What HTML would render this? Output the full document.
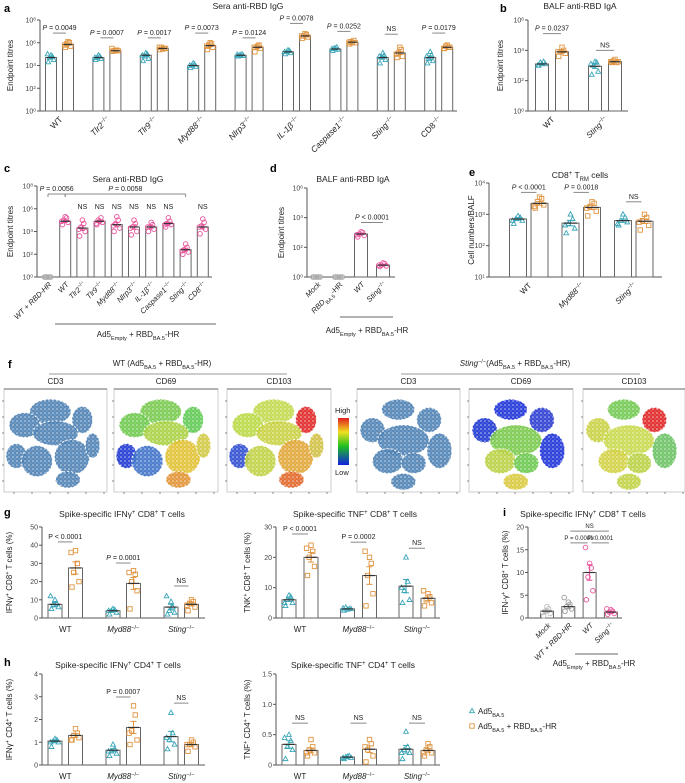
<!DOCTYPE html>
<html><head><meta charset="utf-8"><style>
html,body{margin:0;padding:0;background:#fff;}
svg{display:block;font-family:"Liberation Sans",sans-serif;}
</style></head><body>
<svg id="fig" width="685" height="783" viewBox="0 0 685 783"></svg>
<script>
// ---------- DATA ----------
const aCats=["WT","i:Tlr2|^−/−","i:Tlr9|^−/−","i:Myd88|^−/−","i:Nlrp3|^−/−","i:IL-1β|^−/−","i:Caspase1|^−/−","i:Sting|^−/−","CD8|^−/−"];
const aTealMean=[4.7,4.7,4.9,4.0,4.9,5.2,5.45,4.7,4.7];
const aOrangeMean=[5.85,5.3,5.5,5.75,5.6,6.6,6.05,5.1,5.6];
const aTealPts=[[4.3,4.5,4.7,4.8,4.9,5.0],[4.5,4.6,4.7,4.8,4.9,4.7],[4.4,4.6,4.8,5.0,5.1,4.9],[3.8,3.9,4.0,4.1,4.2,4.0],[4.8,4.85,4.9,5.0,4.9,4.95],[5.0,5.1,5.2,5.3,5.35,5.2],[5.3,5.4,5.5,5.6,5.5,5.45],[4.2,4.5,4.7,4.9,5.1,4.8],[4.2,4.4,4.6,4.9,5.2,4.8]];
const aOrangePts=[[5.6,5.7,5.9,6.0,6.1,5.8],[5.25,5.3,5.3,5.35,5.3,5.5],[5.4,5.5,5.6,5.5,5.45,5.6],[5.4,5.6,5.8,5.9,6.0,5.7],[5.2,5.5,5.6,5.8,5.7,5.6],[6.4,6.5,6.6,6.7,6.8,6.6],[5.9,6.0,6.1,6.2,6.0,6.05],[4.7,4.8,5.1,5.4,5.6,5.0],[5.5,5.6,5.7,5.6,5.8,5.5]];
const aSigLevel=[6.85,6.43,6.43,6.85,6.43,7.7,7.0,6.75,6.85];
const aSigText=["i:P| = 0.0049","i:P| = 0.0007","i:P| = 0.0017","i:P| = 0.0073","i:P| = 0.0124","i:P| = 0.0078","i:P| = 0.0252","NS","i:P| = 0.0179"];

const bCats=["WT","i:Sting|^−/−"];
const bTealMean=[3.1,2.95];
const bOrangeMean=[3.9,3.25];
const bTealPts=[[3.0,3.1,3.2,3.25,3.1,3.0],[2.4,2.6,3.0,3.2,3.25,3.1]];
const bOrangePts=[[3.6,3.8,3.9,4.0,4.2,3.9],[3.2,3.25,3.3,3.2,3.4,3.25]];
const bSigLevel=[5.1,4.0];
const bSigText=["i:P| = 0.0237","NS"];

const cCats=["i:WT + RBD-HR","i:WT","i:Tlr2|^−/−","i:Tlr9|^−/−","i:Myd88|^−/−","i:Nlrp3|^−/−","i:IL-1β|^−/−","i:Caspase1|^−/−","i:Sting|^−/−","i:CD8|^−/−"];
const cMean=[0,4.9,4.3,4.9,4.6,4.4,4.4,4.7,2.4,4.4];
const cPts=[[0,0,0,0,0,0],[4.6,4.8,5.0,5.2,5.3,4.9],[3.6,4.0,4.4,4.7,5.0,4.2],[4.6,4.8,5.0,5.2,4.9,4.7],[4.0,4.3,4.7,5.0,5.3,4.5],[3.7,4.0,4.4,4.7,5.0,4.3],[4.0,4.2,4.4,4.6,4.8,4.4],[4.4,4.6,4.7,4.9,5.2,4.6],[2.0,2.2,2.4,2.6,2.9,2.3],[3.8,4.2,4.5,4.8,5.1,4.4]];
const cSig=[[0,1,7.3,"i:P| = 0.0056"],[1,8,7.3,"i:P| = 0.0058"]];
const cNS=[2,3,4,5,6,7,9];

const dCats=["i:Mock","i:RBD|_BA.5|-HR","i:WT","i:Sting|^−/−"];
const dMean=[0,0,2.9,0.8];
const dPts=[[0,0,0,0,0,0],[0,0,0,0,0,0],[2.7,2.8,2.9,3.0,3.05,2.85],[0.7,0.75,0.8,0.9,0.95,0.8]];
const dSig=[[2,3,3.67,"i:P| < 0.0001"]];

const eCats=["WT","i:Myd88|^−/−","i:Sting|^−/−"];
const eTealMean=[2.85,2.72,2.8];
const eOrangeMean=[3.35,3.22,2.78];
const eTealPts=[[2.7,2.8,2.85,2.9,2.95,2.8],[2.4,2.55,2.7,2.85,3.0,2.65],[2.65,2.75,2.8,2.9,3.0,2.7]];
const eOrangePts=[[3.2,3.3,3.4,3.5,3.55,3.25],[2.95,3.1,3.25,3.35,3.4,3.2],[2.5,2.65,2.8,2.9,3.0,2.75]];
const eSigLevel=[3.7,3.7,3.4];
const eSigText=["i:P| < 0.0001","i:P| = 0.0018","NS"];

const gCats=["WT","i:Myd88|^−/−","i:Sting|^−/−"];
const g1TealMean=[7.5,4,6];
const g1OrangeMean=[27.5,19,7.5];
const g1TealPts=[[5,6,7,8,10,12],[2,3,4,4.5,5,4],[2,3,4,6,9,12]];
const g1OrangePts=[[17,20,25,30,37,36],[5,15,20,24,26,25],[4,6,8,9,10,7]];
const g1SigLevel=[41.8,30.2,17.6];
const g1SigText=["P < 0.0001","i:P| = 0.0001","NS"];

const g2TealMean=[6,3,10.5];
const g2OrangeMean=[20,14,6.5];
const g2TealPts=[[4,5,6,7,7.5,5],[2.5,3,3.5,3,2.8,3.2],[5,6,9,12,20,10]];
const g2OrangePts=[[14,17,20,22,24,23],[4,8,14,18,20,22],[4,5,6,7,8,9]];
const g2SigLevel=[27.7,25,23];
const g2SigText=["P < 0.0001","P = 0.0002","NS"];

const iCats=["i:Mock","i:WT + RBD-HR","i:WT","i:Sting|^−/−"];
const iMean=[1.5,2.5,10,1.3];
const iPts=[[0.5,1,1.5,2,2.5,1.2],[1.5,2,2.5,3,3.5,4.5],[4,6,9,11,12,15.5],[0.8,1,1.3,1.5,1.8,2]];
const iSig=[[1,2,16.5,"P = 0.0001"],[2,3,16.5,"i:P|<0.0001"],[1,3,19.1,"NS"]];

const h1TealMean=[1.05,0.65,1.25];
const h1OrangeMean=[1.3,1.65,0.9];
const h1TealPts=[[0.8,1.0,1.05,1.1,1.15,1.0],[0.4,0.5,0.6,0.7,0.9,0.6],[0.7,0.9,1.1,1.4,2.3,1.2]];
const h1OrangePts=[[1.1,1.2,1.3,1.4,1.6,1.1],[0.9,1.1,1.5,2.2,2.6,1.4],[0.6,0.8,0.9,1.0,1.1,0.9]];
const h1SigLevel=[null,2.99,2.72];
const h1SigText=["","P = 0.0007","NS"];

const h2TealMean=[0.34,0.13,0.26];
const h2OrangeMean=[0.24,0.26,0.24];
const h2TealPts=[[0.1,0.25,0.3,0.4,0.5,0.45],[0.1,0.12,0.13,0.15,0.14,0.12],[0.1,0.2,0.25,0.3,0.55,0.2]];
const h2OrangePts=[[0.15,0.2,0.25,0.3,0.42,0.2],[0.05,0.15,0.25,0.35,0.42,0.3],[0.15,0.2,0.25,0.3,0.35,0.2]];
const h2SigLevel=[0.69,0.69,0.69];
const h2SigText=["NS","NS","NS"];

// ---------- HELPERS ----------
const NS='http://www.w3.org/2000/svg';
const svg=document.getElementById('fig');
const TEAL='#3aa6b9',ORANGE='#df9440',PINK='#e9539b',GRAY='#a8a8a8',AX='#555',TXT='#222';
function add(tag,parent,attrs){const e=document.createElementNS(NS,tag);for(const k in attrs)e.setAttribute(k,attrs[k]);parent.appendChild(e);return e;}
function rich(parent,x,y,str,size,anchor,extra){
  const t=add('text',parent,Object.assign({x:x,y:y,'font-size':size,'text-anchor':anchor||'middle',fill:TXT},extra||{}));
  str.split('|').forEach(seg=>{
    const s=add('tspan',t,{});
    if(seg.startsWith('i:')){s.setAttribute('font-style','italic');seg=seg.slice(2);}
    if(seg.startsWith('^')){s.setAttribute('baseline-shift','super');s.setAttribute('font-size',size*0.7);seg=seg.slice(1);}
    if(seg.startsWith('_')){s.setAttribute('baseline-shift','sub');s.setAttribute('font-size',size*0.7);seg=seg.slice(1);}
    s.textContent=seg;
  });
  return t;
}
function group(name){const g=add('g',svg,{});return g;}
function panelLetter(ch,x,y){const t=add('text',svg,{x:x,y:y,'font-size':11,'font-weight':'bold',fill:'#000'});t.textContent=ch;}

function makeAxis(o){
  const g=group(o.name);
  const y=v=>o.yBot-(v-o.min)/(o.max-o.min)*(o.yBot-o.yTop);
  const ya=add('line',g,{x1:o.x0,y1:o.yTop,x2:o.x0,y2:o.yBot,stroke:AX,'stroke-width':1});
  
  const xa=add('line',g,{x1:o.x0,y1:o.yBot,x2:o.xEnd,y2:o.yBot,stroke:AX,'stroke-width':1});
  
  o.ticks.forEach((v,i)=>{
    add('line',g,{x1:o.x0-3,y1:y(v),x2:o.x0,y2:y(v),stroke:AX});
    const lab=o.log?('10|^'+v):o.tickLabels[i];
    const t=rich(g,o.x0-4,y(v)+2.5,lab,7,'end',{fill:'#444'});
    
  });
  if(o.ytitle){const cy=(o.yTop+o.yBot)/2;const t=rich(g,o.ytx,cy,o.ytitle,8,'middle',{transform:`rotate(-90 ${o.ytx} ${cy})`});}
  if(o.title){const t=rich(g,o.titleX,o.titleY,o.title,8.5,'middle');}
  return {g,y,o};
}
const JIT=[-3,3,-1.5,1.5,0,-3.8];
function marker(g,shape,cx,cy,color){
  let m;
  if(shape==='tri') m=add('path',g,{d:`M${cx},${cy-2.6}L${cx+2.4},${cy+1.7}L${cx-2.4},${cy+1.7}Z`,fill:'none',stroke:color,'stroke-width':0.9});
  else if(shape==='sq') m=add('rect',g,{x:cx-2.2,y:cy-2.2,width:4.4,height:4.4,fill:'none',stroke:color,'stroke-width':0.9});
  else m=add('circle',g,{cx:cx,cy:cy,r:2.3,fill:'none',stroke:color,'stroke-width':0.9});
  
}
function bar(ax,x,w,mean,pts,color,shape,name){
  const g=ax.g, y=ax.y, yb=ax.o.yBot;
  const r=add('rect',g,{x:x-w/2,y:Math.min(y(mean),yb),width:w,height:Math.max(0,yb-y(mean)),fill:'#fff',stroke:'#666','stroke-width':1});
  
  const n=pts.length,m=pts.reduce((a,b)=>a+b,0)/n;
  const sd=Math.sqrt(pts.reduce((a,b)=>a+(b-m)*(b-m),0)/(n-1));
  const se=sd/Math.sqrt(n);
  const s=w/12;
  pts.forEach((v,i)=>marker(g,shape,x+JIT[i%JIT.length]*s,y(v),color));
  if(se>0){
    add('line',g,{x1:x,y1:y(mean+se),x2:x,y2:y(mean-se),stroke:color,'stroke-width':1});
    add('line',g,{x1:x-w*0.22,y1:y(mean+se),x2:x+w*0.22,y2:y(mean+se),stroke:color,'stroke-width':1});
    add('line',g,{x1:x-w*0.22,y1:y(mean-se),x2:x+w*0.22,y2:y(mean-se),stroke:color,'stroke-width':1});
  }
  add('line',g,{x1:x-w*0.4,y1:y(mean),x2:x+w*0.4,y2:y(mean),stroke:shape==='circ'&&color===GRAY?GRAY:'#333','stroke-width':1.2});
}
function sig(ax,x1,x2,level,text,ticks,size){
  const g=ax.g,yy=ax.y(level);
  const l=add('line',g,{x1:x1,y1:yy,x2:x2,y2:yy,stroke:'#888','stroke-width':1});
  
  if(ticks){add('line',g,{x1:x1,y1:yy,x2:x1,y2:yy+3,stroke:'#888'});add('line',g,{x1:x2,y1:yy,x2:x2,y2:yy+3,stroke:'#888'});}
  const t=rich(g,(x1+x2)/2,yy-3,text,size||7,'middle');
  
}
function xlab(ax,x,y,str,rot,size){
  const t=rich(ax.g,x,y,str,size||7.5,rot?'end':'middle',rot?{transform:`rotate(-45 ${x} ${y})`}:{});
  
}

// ---------- PANEL A ----------
panelLetter('a',4,12);
{const ax=makeAxis({name:'chart-a',x0:40,xEnd:457,yTop:20,yBot:111,min:0,max:8,log:true,ticks:[0,2,4,6,8],ytitle:'Endpoint titres',ytx:13,title:'Sera anti-RBD IgG',titleX:248,titleY:9});
 aCats.forEach((c,i)=>{const xt=51+i*47.4,xo=xt+17;
  bar(ax,xt,11,aTealMean[i],aTealPts[i],TEAL,'tri','bar-teal-'+i);
  bar(ax,xo,11,aOrangeMean[i],aOrangePts[i],ORANGE,'sq','bar-orange-'+i);
  sig(ax,xt+2,xo-2,aSigLevel[i],aSigText[i]);
  xlab(ax,xt+12,120,c,true,8.5);});}

// ---------- PANEL B ----------
panelLetter('b',500,12);
{const ax=makeAxis({name:'chart-b',x0:528,xEnd:628,yTop:20,yBot:111,min:0,max:6,log:true,ticks:[0,2,4,6],ytitle:'Endpoint titres',ytx:503,title:'BALF anti-RBD IgA',titleX:580,titleY:9});
 bCats.forEach((c,i)=>{const xt=542+i*53,xo=xt+20;
  bar(ax,xt,13,bTealMean[i],bTealPts[i],TEAL,'tri','bar-teal-'+i);
  bar(ax,xo,13,bOrangeMean[i],bOrangePts[i],ORANGE,'sq','bar-orange-'+i);
  sig(ax,xt+1,xo-1,bSigLevel[i],bSigText[i]);
  xlab(ax,xt+13,120,c,true,8);});}

// ---------- PANEL C ----------
panelLetter('c',4,172);
{const ax=makeAxis({name:'chart-c',x0:37,xEnd:212,yTop:186,yBot:277,min:0,max:8,log:true,ticks:[0,2,4,6,8],ytitle:'Endpoint titres',ytx:13,title:'Sera anti-RBD IgG',titleX:128,titleY:182});
 const cx=i=>48+i*17.2;
 cCats.forEach((c,i)=>{bar(ax,cx(i),11,cMean[i],cPts[i],i===0?GRAY:PINK,'circ','bar-'+i);
  xlab(ax,cx(i)+4,285,c,true,7.5);});
 cSig.forEach(s=>sig(ax,cx(s[0]),cx(s[1]),s[2],s[3],true));
 cNS.forEach(i=>{const t=rich(ax.g,cx(i),ax.y(6.0),'NS',7,'middle');});
 add('line',ax.g,{x1:55,y1:324,x2:216,y2:324,stroke:'#666'});
 const t=rich(ax.g,138,337,'Ad5|_Empty| + RBD|_BA.5|-HR',8,'middle');}

// ---------- PANEL D ----------
panelLetter('d',270,172);
{const ax=makeAxis({name:'chart-d',x0:307,xEnd:395,yTop:188,yBot:277,min:0,max:6,log:true,ticks:[0,2,4,6],ytitle:'Endpoint titres',ytx:284,title:'BALF anti-RBD IgA',titleX:353,titleY:182});
 const dx=i=>317+i*22;
 dCats.forEach((c,i)=>{bar(ax,dx(i),13,dMean[i],dPts[i],i<2?GRAY:PINK,'circ','bar-'+i);
  xlab(ax,dx(i)+4,285,c,true,7.5);});
 dSig.forEach(s=>sig(ax,dx(s[0]),dx(s[1]),s[2],s[3]));
 add('line',ax.g,{x1:340,y1:317,x2:393,y2:317,stroke:'#666'});
 const t=rich(ax.g,367,333,'Ad5|_Empty| + RBD|_BA.5|-HR',8,'middle');}

// ---------- PANEL E ----------
panelLetter('e',469,176);
{const ax=makeAxis({name:'chart-e',x0:489,xEnd:662,yTop:183,yBot:277,min:1,max:4,log:true,ticks:[1,2,3,4],ytitle:'Cell numbers/BALF',ytx:474,title:'CD8|^+| T|_RM| cells',titleX:580,titleY:178});
 eCats.forEach((c,i)=>{const xt=518+i*52.5,xo=xt+21.5;
  bar(ax,xt,17,eTealMean[i],eTealPts[i],TEAL,'tri','bar-teal-'+i);
  bar(ax,xo,17,eOrangeMean[i],eOrangePts[i],ORANGE,'sq','bar-orange-'+i);
  sig(ax,xt+3,xo-3,eSigLevel[i],eSigText[i]);
  xlab(ax,xt+14,286,c,true,8);});}

// ---------- PANEL F (t-SNE) ----------
panelLetter('f',8,368);
{const g=group('tsne-panel');
 const defs=add('defs',svg,{});
 const pat=add('pattern',defs,{id:'speck',width:4,height:4,patternUnits:'userSpaceOnUse'});
 add('circle',pat,{cx:1,cy:1,r:0.8,fill:'#fff','fill-opacity':0.7});
 add('circle',pat,{cx:3,cy:3,r:0.5,fill:'#fff','fill-opacity':0.5});
 const hdr=(x,y,s)=>{const t=rich(g,x,y,s,8,'middle');};
 hdr(162,366,'WT (Ad5|_BA.5| + RBD|_BA.5|-HR)');
 hdr(515,366,'i:Sting|^−/−|(Ad5|_BA.5| + RBD|_BA.5|-HR)');
 add('line',g,{x1:49,y1:374,x2:287,y2:374,stroke:'#999'});
 add('line',g,{x1:401,y1:374,x2:640,y2:374,stroke:'#999'});
 const wtL=[[.45,.22,.2,.12],[.76,.3,.1,.13],[.2,.35,.15,.12],[.5,.43,.22,.12],[.12,.65,.1,.12],[.32,.7,.15,.15],[.66,.66,.17,.17],[.62,.88,.12,.08],[.86,.55,.07,.12]];
 const stL=[[.4,.2,.16,.1],[.7,.3,.12,.12],[.15,.4,.12,.12],[.45,.5,.25,.15],[.8,.6,.12,.17],[.3,.7,.15,.12],[.55,.72,.12,.1],[.45,.9,.12,.08]];
 const B='#4b7fb3';
 const plots=[
  [4,107,'CD3',wtL,[B,B,B,B,B,B,B,B,B]],
  [114,218,'CD69',wtL,['#74c84a','#5cc850','#6cc84a','#a8d040','#1a34d0','#3c70c8','#e0c030','#e09030','#d0c840']],
  [227,331,'CD103',wtL,['#c0d848','#e02424','#b8d840','#c8d040','#2a4ad0','#c0d040','#e0a434','#e06424','#d0c040']],
  [357,460,'CD3',stL,[B,B,B,B,B,B,B,B]],
  [469,573,'CD69',stL,['#1a30d8','#2838d0','#1a34d0','#78c848','#1a30d8','#b8d040','#68c84a','#d8c838']],
  [583,685,'CD103',stL,['#70c850','#e02020','#c8d040','#c8d848','#68c060','#d0d040','#b8d040','#c0d040']]];
 plots.forEach((p,k)=>{
  const x0=p[0],x1=p[1],y0=389,y1=492,w=x1-x0,h=y1-y0;
  const pg=add('g',g,{});
  add('rect',pg,{x:x0,y:y0,width:w,height:h,fill:'#fff',stroke:'#ccc','stroke-width':1});
  add('line',pg,{x1:x0,y1:y0,x2:x1,y2:y0,stroke:'#999','stroke-width':1.5});
  for(let j=0;j<6;j++){add('line',pg,{x1:x0,y1:y0+12+j*16,x2:x0-2,y2:y0+12+j*16,stroke:'#888'});add('line',pg,{x1:x0+10+j*18,y1:y1,x2:x0+10+j*18,y2:y1+2,stroke:'#888'});}
  p[3].forEach((c,i)=>{
   const e=add('ellipse',pg,{cx:x0+c[0]*w,cy:y0+c[1]*h,rx:c[2]*w,ry:c[3]*h,fill:p[4][i],'fill-opacity':0.9,stroke:'#fff','stroke-width':1,'stroke-dasharray':'2 2'});
   
   add('ellipse',pg,{cx:x0+c[0]*w,cy:y0+c[1]*h,rx:c[2]*w,ry:c[3]*h,fill:'url(#speck)'});
  });
  const t=add('text',g,{x:(x0+x1)/2,y:384,'font-size':8,'text-anchor':'middle',fill:TXT});t.textContent=p[2];
 });
 const lg=add('linearGradient',defs,{id:'cb',x1:0,y1:0,x2:0,y2:1});
 [['0','#e02020'],['0.3','#f0e020'],['0.6','#20c020'],['1','#1020e0']].forEach(s=>add('stop',lg,{offset:s[0],'stop-color':s[1]}));
 const cb=add('rect',g,{x:338,y:418,width:11,height:47,fill:'url(#cb)'});
 const hi=add('text',g,{x:335,y:413,'font-size':7.5,fill:TXT});hi.textContent='High';
 const lo=add('text',g,{x:335,y:475,'font-size':7.5,fill:TXT});lo.textContent='Low';}

// ---------- PANEL G / H ----------
function pairChart(name,x0,xEnd,yTop,yBot,max,ticks,labs,ytitle,ytx,title,tx,ty,xs,step,off,tm,om,tp,op,sl,st,labY){
  const ax=makeAxis({name:name,x0:x0,xEnd:xEnd,yTop:yTop,yBot:yBot,min:0,max:max,log:false,ticks:ticks,tickLabels:labs,ytitle:ytitle,ytx:ytx,title:title,titleX:tx,titleY:ty});
  gCats.forEach((c,i)=>{const xt=xs+i*step,xo=xt+off;
    bar(ax,xt,14,tm[i],tp[i],TEAL,'tri','bar-teal-'+i);
    bar(ax,xo,14,om[i],op[i],ORANGE,'sq','bar-orange-'+i);
    if(sl[i]!==null)sig(ax,xt+3,xo-3,sl[i],st[i]);
    xlab(ax,(xt+xo)/2,labY,c,false,8);});
}
panelLetter('g',4,516);
pairChart('chart-g-ifng',42,205,527,618,50,[0,10,20,30,40,50],['0','10','20','30','40','50'],'IFNγ|^+| CD8|^+| T cells (%)',12,'Spike-specific IFNγ|^+| CD8|^+| T cells',122,517,55,58,20.5,g1TealMean,g1OrangeMean,g1TealPts,g1OrangePts,g1SigLevel,g1SigText,632);
pairChart('chart-g-tnf',276,440,527,618,30,[0,10,20,30],['0','10','20','30'],'TNK|^+| CD8|^+| T cells (%)',250,'Spike-specific TNF|^+| CD8|^+| T cells',355,517,289,58.5,22,g2TealMean,g2OrangeMean,g2TealPts,g2OrangePts,g2SigLevel,g2SigText,632);
panelLetter('h',4,666);
pairChart('chart-h-ifng',42,205,674,765,4,[0,1,2,3,4],['0','1','2','3','4'],'IFNγ|^+| CD4|^+| T cells (%)',12,'Spike-specific IFNγ|^+| CD4|^+| T cells',118,668,55,58,20.5,h1TealMean,h1OrangeMean,h1TealPts,h1OrangePts,h1SigLevel,h1SigText,779);
pairChart('chart-h-tnf',276,440,674,765,1.5,[0,0.5,1,1.5],['0','0.5','1.0','1.5'],'TNF|^+| CD4|^+| T cells (%)',250,'Spike-specific TNF|^+| CD4|^+| T cells',353,668,289,58.5,22,h2TealMean,h2OrangeMean,h2TealPts,h2OrangePts,h2SigLevel,h2SigText,779);

// ---------- PANEL I ----------
panelLetter('i',503,516);
{const ax=makeAxis({name:'chart-i',x0:528,xEnd:622,yTop:527,yBot:618,min:0,max:20,log:false,ticks:[0,5,10,15,20],tickLabels:['0','5','10','15','20'],ytitle:'IFN-γ|^+| CD8|^+| T cells (%)',ytx:508,title:'Spike-specific IFNγ|^+| CD8|^+| T cells',titleX:583,titleY:517});
 const ix=i=>547+i*21.3;const cols=['#bbb','#999',PINK,PINK];
 iCats.forEach((c,i)=>{bar(ax,ix(i),13,iMean[i],iPts[i],cols[i],'circ','bar-'+i);xlab(ax,ix(i)+4,626,c,true,7.5);});
 iSig.forEach(s=>sig(ax,ix(s[0])+2,ix(s[1])-2,s[2],s[3],false,6));
 add('line',ax.g,{x1:575,y1:654,x2:618,y2:654,stroke:'#666'});
 const t=rich(ax.g,594,666,'Ad5|_Empty| + RBD|_BA.5|-HR',8,'middle');}

// ---------- LEGEND ----------
{const g=group('legend');
 const e1=add('g',g,{});
 marker(e1,'tri',472,711,TEAL);rich(e1,478,714,'Ad5|_BA.5',8,'start');
 const e2=add('g',g,{});
 marker(e2,'sq',472,726,ORANGE);rich(e2,478,729,'Ad5|_BA.5| + RBD|_BA.5|-HR',8,'start');}
</script>
</body></html>
